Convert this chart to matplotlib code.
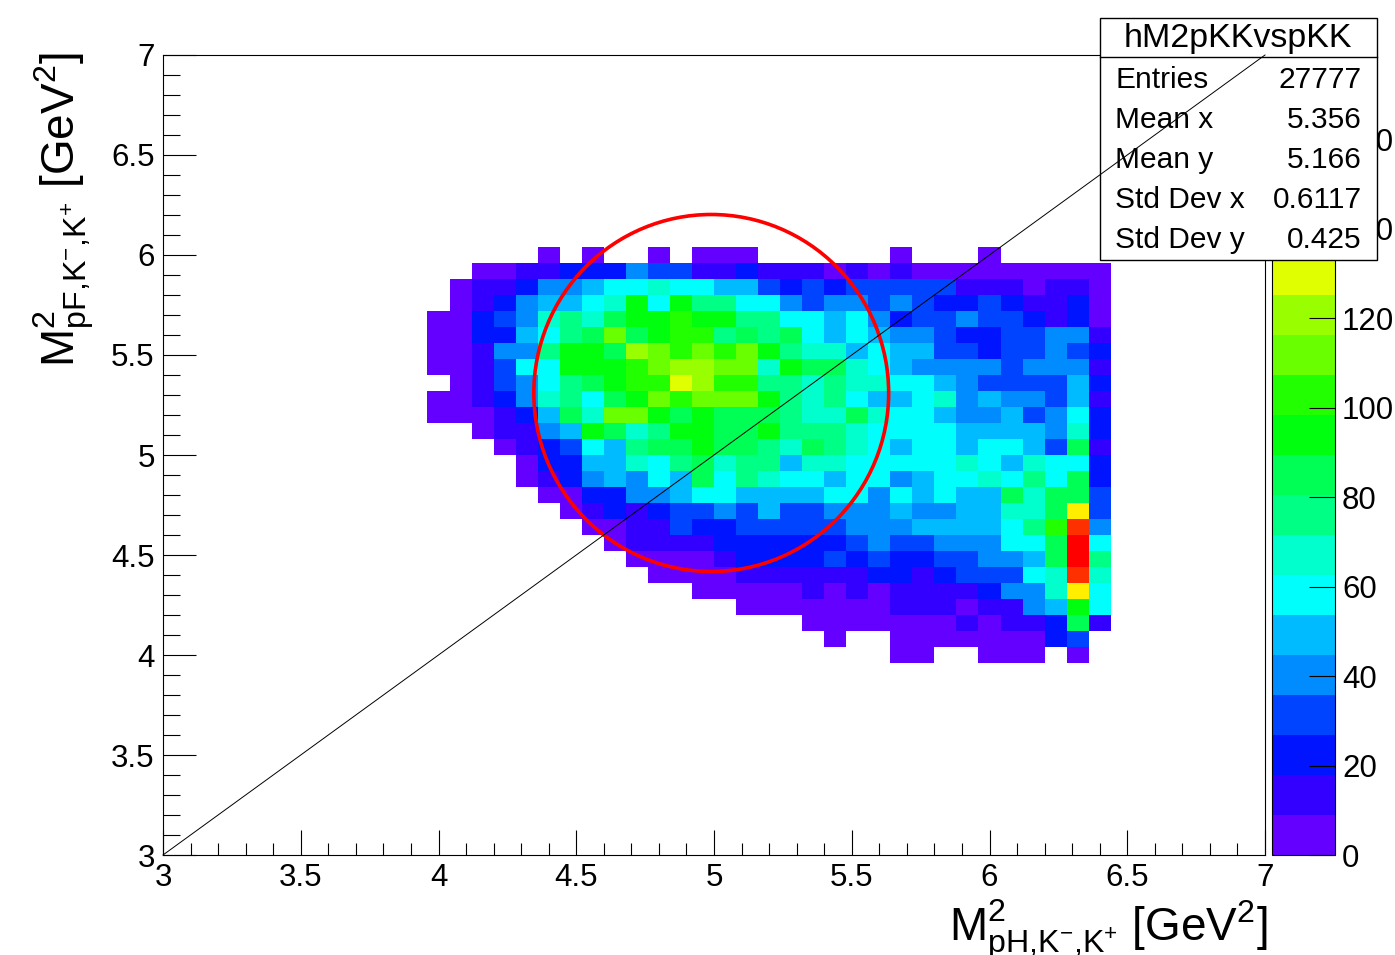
import colorsys
import matplotlib
matplotlib.use("Agg")
import matplotlib.pyplot as plt
import numpy as np
from matplotlib.colors import ListedColormap, BoundaryNorm
from matplotlib.patches import Ellipse, Rectangle
from matplotlib.lines import Line2D
from matplotlib.ticker import MultipleLocator

plt.rcParams['font.family'] = ['Liberation Sans', 'DejaVu Sans']
plt.rcParams['mathtext.fontset'] = 'custom'
plt.rcParams['mathtext.rm'] = 'Liberation Sans'
plt.rcParams['mathtext.it'] = 'Liberation Sans'

# binning of the 2D histogram (50 x 50 bins from 3 to 7 GeV^2)
x_edges = np.linspace(3, 7, 51)
y_edges = np.linspace(3, 7, 51)
z_max = 178.8
n_levels = 20
first_col = 12   # x bin of the first character in each row
first_row = 12   # y bin of the last (bottom) row

# colour level of each bin: 0-9, a-j = levels 10-19, '.' = empty
# top row (y bin 37) first
level_rows = [
    ".....0.0..0.000......0...0.....",
    "..00112224331121110101000000000",
    ".011244566766553232333331110110",
    ".01245567a6a8866434434322321120",
    "002347879aabaa88665642334332120",
    "00225689c9abb898965654432233441",
    "001448aa9dcbcbca877565533233432",
    "001366aaabcddcc7a99765444434441",
    ".0134689abbedbb8878776654333352",
    "001247869acbccca878655674544351",
    "00012597cca9a999877976654453462",
    "..01145a978aa99a888766665555472",
    "...012365899a998798765665665391",
    "....022557689788577666667657662",
    "....012454659687665664566768692",
    ".....00224456655556646565597993",
    "......01212334353344454455779f3",
    ".......001132233333444555568bi4",
    "........011112222223433444669j6",
    ".........00001222232322334459j8",
    "..........0000111111221233367i7",
    "............00000101011112447f6",
    "..............000000011101145a6",
    ".................00000001011291",
    "..................0..000000023.",
    ".....................00..000.0.",
]

stat_names = ['Entries', 'Mean x', 'Mean y', 'Std Dev x', 'Std Dev y']
stat_values = ['27777', '5.356', '5.166', '0.6117', '0.425']
hist_name = 'hM2pKKvspKK'

counts = np.zeros((50, 50))
step = z_max / n_levels
for r, row in enumerate(level_rows):
    j = first_row + len(level_rows) - 1 - r
    for c, ch in enumerate(row):
        if ch != '.':
            counts[j, first_col + c] = (int(ch, 20) + 0.5) * step
counts = np.ma.masked_equal(counts, 0)

# ROOT "pretty" palette (HLS violet -> red), 20 contour levels
pal = []
for k in range(n_levels):
    idx = int((k + 0.99) * 50 / n_levels)
    if idx >= 49:
        pal.append((1, 0, 0))
    else:
        hue = 280 - (idx + 1) * 5.6
        pal.append(colorsys.hls_to_rgb(hue / 360, 0.5, 1.0))
cmap = ListedColormap(pal)
norm = BoundaryNorm(np.linspace(0, z_max, n_levels + 1), n_levels)

W, H = 1395, 955
fig = plt.figure(figsize=(W / 100, H / 100), dpi=100)
ax = fig.add_axes([163 / W, 1 - 855 / H, (1265 - 163) / W, (855 - 55) / H])
mesh = ax.pcolormesh(x_edges, y_edges, counts, cmap=cmap, norm=norm)
ax.set_xlim(3, 7)
ax.set_ylim(3, 7)

ax.xaxis.set_major_locator(MultipleLocator(0.5))
ax.xaxis.set_minor_locator(MultipleLocator(0.1))
ax.yaxis.set_major_locator(MultipleLocator(0.5))
ax.yaxis.set_minor_locator(MultipleLocator(0.1))
ax.xaxis.set_major_formatter(plt.FuncFormatter(lambda v, p: f'{v:g}'))
ax.yaxis.set_major_formatter(plt.FuncFormatter(lambda v, p: f'{v:g}'))
ax.tick_params(axis='x', which='major', direction='in', length=18, width=0.8, labelsize=22.5, pad=6)
ax.tick_params(axis='x', which='minor', direction='in', length=9, width=0.8)
ax.tick_params(axis='y', which='major', direction='in', length=24, width=0.8, labelsize=22.5, pad=6)
ax.tick_params(axis='y', which='minor', direction='in', length=12, width=0.8)
for s in ax.spines.values():
    s.set_linewidth(0.8)

# axis titles, placed like ROOT: at the end of each axis
fig.text(1267 / W, 1 - 940 / H, r'$\mathregular{M^{2}_{pH{,}K^{-}{,}K^{+}}}$ [GeV$\mathregular{^{2}}$]',
         ha='right', va='baseline', fontsize=33)
fig.text(64 / W, 1 - 52 / H, r'$\mathregular{M^{2}_{pF{,}K^{-}{,}K^{+}}}$ [GeV$\mathregular{^{2}}$]',
         ha='center', va='top', rotation=90, fontsize=33)

# red circle marking the region of interest
ax.add_patch(Ellipse((4.99, 5.31), 1.288, 1.785, fill=False, ec='#ff0000', lw=2.6, zorder=4))

# colour palette
cax = fig.add_axes([1272 / W, 1 - 855 / H, (1335 - 1272) / W, (855 - 55) / H])
cb = fig.colorbar(mesh, cax=cax, ticks=np.arange(0, 161, 20))
cb.outline.set_linewidth(0.8)
cax.tick_params(direction='in', length=19, width=0.8, labelsize=22.5, pad=5)
cax.minorticks_off()

# statistics box
fig.add_artist(Rectangle((1100 / W, 1 - 260 / H), 277 / W, 242 / H, transform=fig.transFigure,
                         fc='white', ec='black', lw=1.0, zorder=5))
fig.add_artist(Line2D([1100 / W, 1377 / W], [1 - 57 / H, 1 - 57 / H], transform=fig.transFigure,
                      color='black', lw=1.0, zorder=6))
fig.text(1238 / W, 1 - 38 / H, hist_name, ha='center', va='center', fontsize=24.5, zorder=7)
for n, (name, val) in enumerate(zip(stat_names, stat_values)):
    yy = 1 - (80 + n * 40) / H
    fig.text(1115 / W, yy, name, ha='left', va='center', fontsize=21.5, zorder=7)
    fig.text(1362 / W, yy, val, ha='right', va='center', fontsize=21.5, zorder=7)

# diagonal y = x drawn on top of everything
fig.add_artist(Line2D([3, 7], [3, 7], transform=ax.transData, color='black', lw=0.7, zorder=8))

fig.savefig('out.png', dpi=100)
